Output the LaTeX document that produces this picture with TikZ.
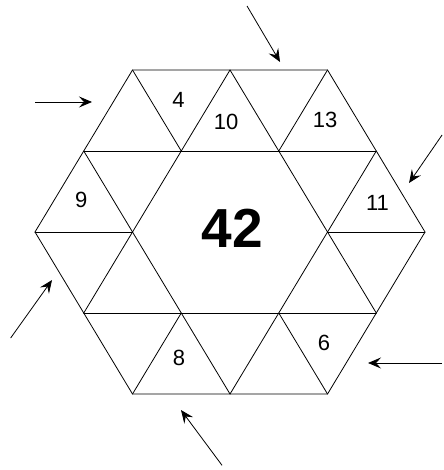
\documentclass[tikz,border=0pt]{standalone}
\usepackage{fontspec}
\setmainfont{Liberation Sans}
\usepackage{tkz-euclide}
\usetikzlibrary{arrows.meta,calc}
\tikzset{
  num/.style={font=\fontsize{22}{26}\selectfont,inner sep=0pt},
  total/.style={font=\fontsize{55}{64}\selectfont\bfseries,inner sep=0pt},
  pointer/.style={line width=0.8pt,-{Stealth[length=13pt,width=11pt,inset=5pt]}},
}

\begin{document}
\begin{tikzpicture}[x=48.75pt,y=81pt]
\useasboundingbox (-4.718,-2.938) rectangle (4.369,2.864);
\tkzSetUpLine[line width=0.8pt,color=black]

% grid points, row by row
\tkzDefPoints{-2/2/a1,0/2/a2,2/2/a3}
\tkzDefPoints{-3/1/b1,-1/1/b2,1/1/b3,3/1/b4}
\tkzDefPoints{-4/0/c1,-2/0/c2,2/0/c3,4/0/c4}
\tkzDefPoints{-3/-1/d1,-1/-1/d2,1/-1/d3,3/-1/d4}
\tkzDefPoints{-2/-2/e1,0/-2/e2,2/-2/e3}

% arrow ends
\tkzDefPoints{0.349/2.79/s1,1.026/2.099/t1,-4.0/1.605/s2,-2.831/1.605/t2}
\tkzDefPoints{4.35/1.198/s3,3.672/0.605/t3,-4.5/-1.309/s4,-3.651/-0.593/t4}
\tkzDefPoints{4.35/-1.617/s5,2.831/-1.617/t5,-0.164/-2.88/s6,-1.005/-2.198/t6}

\tkzDrawPolygon(a1,a3,c4,e3,e1,c1)
\tkzDrawSegments(b1,b4 c1,c2 c3,c4 d1,d4)
\tkzDrawSegments(a2,d4 b1,e2 a1,b2 d3,e3)
\tkzDrawSegments(a2,d1 b4,e2 a3,b3 d2,e1)

\draw[pointer] (s1) -- (t1);
\draw[pointer] (s2) -- (t2);
\draw[pointer] (s3) -- (t3);
\draw[pointer] (s4) -- (t4);
\draw[pointer] (s5) -- (t5);
\draw[pointer] (s6) -- (t6);

\node[num] (n4) at (-1.056,1.630) {4};
\node[num] (n10) at (-0.082,1.364) {10};
\node[num] (n13) at (1.949,1.383) {13};
\node[num] (n9) at (-3.050,0.395) {9};
\node[num] (n11) at (3.026,0.364) {11};
\node[num] (n8) at (-1.046,-1.556) {8};
\node[num] (n6) at (1.928,-1.370) {6};
\node[total] (sum) at (0.051,0.049) {42};

\end{tikzpicture}
\end{document}
